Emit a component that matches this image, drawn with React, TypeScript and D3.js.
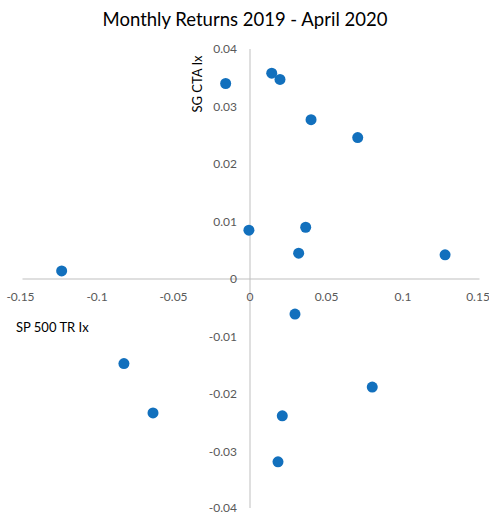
import React from 'react';
import * as d3 from 'd3';

// monthly returns
const spReturns = [
  -0.0159, 0.0142, 0.0196, 0.0399, 0.0704, -0.0007, 0.0364, 0.0318,
  0.1275, -0.1231, 0.0294, -0.0824, 0.0799, -0.0634, 0.0211, 0.0183,
];
const ctaReturns = [
  0.034, 0.0358, 0.0347, 0.0277, 0.0246, 0.0085, 0.009, 0.0045,
  0.0042, 0.0014, -0.0061, -0.0147, -0.0188, -0.0233, -0.0238, -0.0318,
];
const xTicks = [-0.15, -0.1, -0.05, 0, 0.05, 0.1, 0.15];
const yTicks = [-0.04, -0.03, -0.02, -0.01, 0, 0.01, 0.02, 0.03, 0.04];

const W = 489;
const H = 514;
const FONT = 'Lato, "Open Sans", sans-serif';

const App = () => {
  const x = d3.scaleLinear().domain([-0.15, 0.15]).range([20.5, 479.5]);
  const y = d3.scaleLinear().domain([-0.04, 0.04]).range([509, 49]);

  const points = spReturns.map((v, i) => ({ x: v, y: ctaReturns[i] }));
  const fmt = (d: number) => (d === 0 ? '0' : String(d));

  return (
    <svg width={W} height={H} style={{ position: 'absolute', left: 0, top: 0, background: '#fff' }}>
      <text x={245} y={26} textAnchor="middle" fontFamily={FONT} fontSize={18.5} fill="#000">
        Monthly Returns 2019 - April 2020
      </text>

      {/* axes crossing at origin */}
      <line x1={x(-0.15) + 2} x2={x(0.15)} y1={y(0)} y2={y(0)} stroke="#bfbfbf" />
      <line x1={x(0)} x2={x(0)} y1={y(0.04)} y2={y(-0.04) - 1} stroke="#bfbfbf" />

      {xTicks.map(t => (
        <text key={'x' + t} x={Math.min(x(t), W - 11)} y={y(0) + 22} textAnchor="middle"
          fontFamily={FONT} fontSize={12} fill="#595959">{fmt(t)}</text>
      ))}
      {yTicks.map(t => (
        <text key={'y' + t} x={x(0) - 13} y={Math.min(y(t) + 4, H - 2)} textAnchor="end"
          fontFamily={FONT} fontSize={12} fill="#595959">{fmt(t)}</text>
      ))}

      <text transform={`translate(202, 84) rotate(-90)`} textAnchor="middle"
        fontFamily={FONT} fontSize={13} fill="#000">SG CTA Ix</text>
      <text x={16} y={332} fontFamily={FONT} fontSize={13} fill="#000">SP 500 TR Ix</text>

      {points.map((p, i) => (
        <circle key={i} cx={x(p.x)} cy={y(p.y)} r={5.5} fill="#1270bd" />
      ))}
    </svg>
  );
};

export default App;
